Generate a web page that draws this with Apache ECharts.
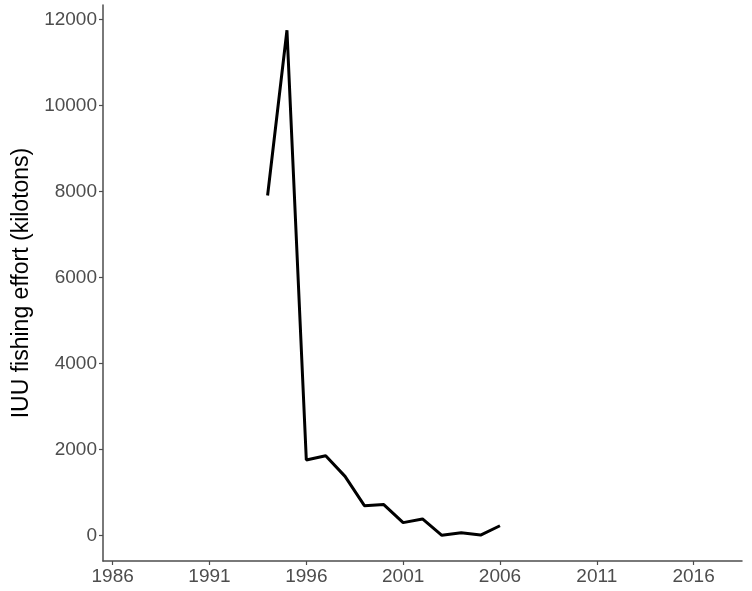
<!DOCTYPE html>
<html>
<head>
<meta charset="utf-8">
<script src="https://cdn.jsdelivr.net/npm/echarts@6/dist/echarts.min.js"></script>
<style>
  html, body { margin: 0; padding: 0; background: #fff; }
  #main { width: 752px; height: 591px; }
</style>
</head>
<body>
<div id="main"></div>
<script>
// years and IUU effort
var years = [1994, 1995, 1996, 1997, 1998, 1999, 2000, 2001, 2002, 2003, 2004, 2005, 2006];
var effort = [7910, 11750, 1760, 1860, 1380, 700, 725, 305, 390, 10, 70, 15, 232];
var xTicks = [1986, 1991, 1996, 2001, 2006, 2011, 2016];
var yTicks = [0, 2000, 4000, 6000, 8000, 10000, 12000];

var myChart = echarts.init(document.getElementById('main'));

var points = [];
for (var i = 0; i < years.length; i++) {
    points.push([years[i], effort[i]]);
}

var axisGrey = '#4d4d4d';
var labelFont = { color: axisGrey, fontSize: 19, fontFamily: 'Liberation Sans, Arial, sans-serif' };

var option = {
    animation: false,
    grid: { left: 103, right: 10, top: 5, bottom: 30, containLabel: false, outerBoundsMode: 'none' },
    xAxis: {
        type: 'value',
        min: 1985.5,
        max: 2018.5,
        splitLine: { show: false },
        axisLine: { onZero: false, lineStyle: { color: axisGrey, width: 1.5 } },
        axisTick: { show: true, length: 4, customValues: xTicks, lineStyle: { color: axisGrey, width: 1.2 } },
        axisLabel: Object.assign({
            customValues: xTicks, margin: 6,
            formatter: function (v) { return String(v); }
        }, labelFont)
    },
    yAxis: {
        type: 'value',
        min: -587,
        max: 12337,
        name: 'IUU fishing effort (kilotons)',
        nameLocation: 'middle',
        nameGap: 66,
        nameTextStyle: { color: '#000', fontSize: 23, fontFamily: 'Liberation Sans, Arial, sans-serif' },
        splitLine: { show: false },
        axisLine: { show: true, onZero: false, lineStyle: { color: axisGrey, width: 1.5 } },
        axisTick: { show: true, length: 4, customValues: yTicks, lineStyle: { color: axisGrey, width: 1.2 } },
        axisLabel: Object.assign({
            customValues: yTicks, margin: 6,
            formatter: function (v) { return String(v); }
        }, labelFont)
    },
    series: [
        {
            type: 'line',
            data: points,
            showSymbol: false,
            lineStyle: { color: '#000', width: 3 }
        }
    ]
};

myChart.setOption(option);
</script>
</body>
</html>
